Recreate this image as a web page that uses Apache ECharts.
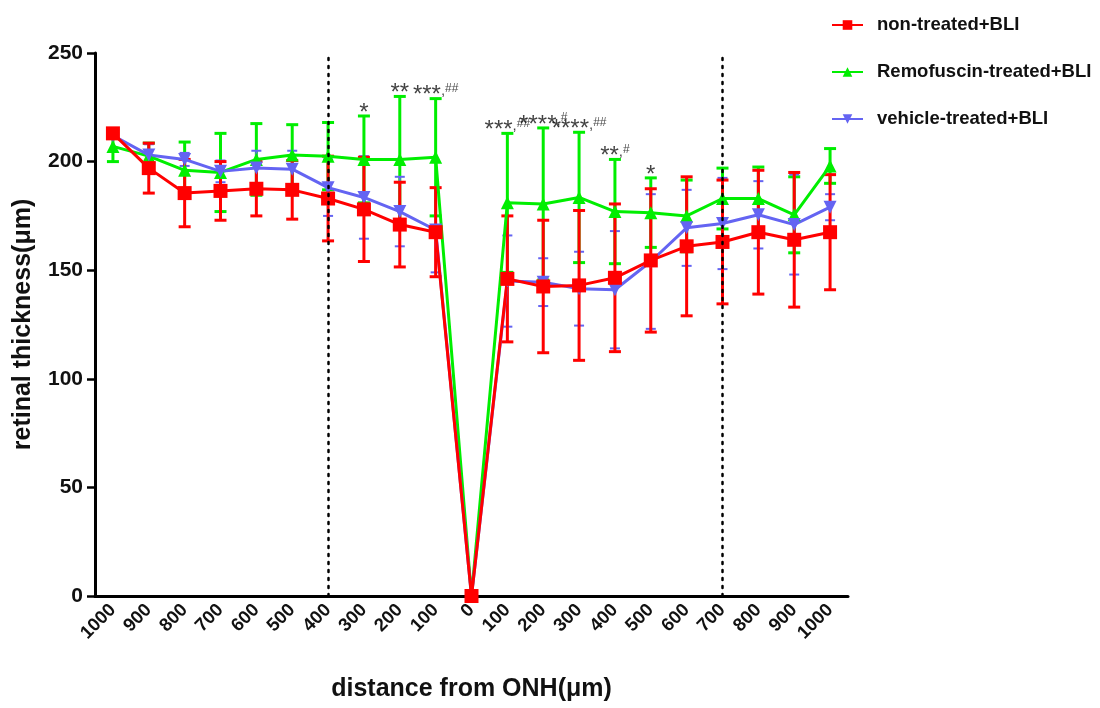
<!DOCTYPE html>
<html>
<head>
<meta charset="utf-8">
<script src="https://cdn.jsdelivr.net/npm/echarts@6/dist/echarts.min.js"></script>
<style>html,body{margin:0;padding:0;background:#fff;}#main{width:1100px;height:708px;}</style>
</head>
<body>
<div id="main"></div>
<script>
const categories = ['1000','900','800','700','600','500','400','300','200','100','0','100','200','300','400','500','600','700','800','900','1000'];
const yTicks = [0, 50, 100, 150, 200, 250];

const redMean  = [213, 197, 185.5, 186.5, 187.5, 187, 183, 178, 171, 167.5, 0, 146, 142.5, 143, 146.5, 154.5, 161, 163, 167.5, 164, 167.5];
const redErr   = [0, 11.5, 15.5, 13.5, 12.5, 13.5, 19.5, 24, 19.5, 20.5, 0, 29, 30.5, 34.5, 34, 33, 32, 28.5, 28.5, 31, 26.5];
const greenMean= [207, 202.5, 196, 195, 201, 203, 202.5, 201, 201, 202, 0, 181, 180.5, 183.5, 177, 176.5, 175, 183, 183, 175.5, 198];
const greenErr = [7, 6, 13, 18, 16.5, 14, 15.5, 20, 29, 27, 0, 32, 35, 30, 24, 16, 16.5, 14, 14.5, 17.5, 8];
const blueMean = [212, 203, 201, 195.5, 197, 196.5, 188, 183.5, 177, 168.5, 0, 145, 144.5, 141.5, 141, 154, 169.5, 171.5, 175.5, 171, 179];
const blueErr  = [0, 5, 3, 5, 8, 8.5, 13, 19, 16, 19.5, 0, 21, 11, 17, 27, 31, 17.5, 21, 15.5, 23, 6];

const annotIdx  = [7, 8, 9, 11, 12, 13, 14, 15];
const annotStar = ['*', '**', '***', '***', '****', '****', '**', '*'];
const annotHash = ['', '', '##', '##', '#', '##', '#', ''];

const dottedIdx = [6, 17];

const RED = '#ff0000', GREEN = '#00ee00', BLUE = '#6464f2';
const FONT = 'Liberation Sans, Arial, sans-serif';

function errData(mean, err) {
  return mean.map((m, i) => [i, m - err[i], m + err[i]]);
}
function errSeries(mean, err, color, width, capW) {
  return {
    type: 'custom',
    silent: true,
    renderItem: function (params, api) {
      const x = api.value(0);
      const lo = api.coord([x, api.value(1)]);
      const hi = api.coord([x, api.value(2)]);
      const st = { stroke: color, lineWidth: width };
      return { type: 'group', children: [
        { type: 'line', shape: { x1: lo[0], y1: lo[1], x2: hi[0], y2: hi[1] }, style: st },
        { type: 'line', shape: { x1: hi[0] - capW / 2, y1: hi[1], x2: hi[0] + capW / 2, y2: hi[1] }, style: st },
        { type: 'line', shape: { x1: lo[0] - capW / 2, y1: lo[1], x2: lo[0] + capW / 2, y2: lo[1] }, style: st }
      ] };
    },
    encode: { x: 0, y: [1, 2] },
    data: errData(mean, err).filter((d, i) => err[i] > 0)
  };
}

const chart = echarts.init(document.getElementById('main'));
chart.setOption({
  animation: false,
  backgroundColor: '#fff',
  textStyle: { fontFamily: FONT },
  grid: { left: 95, right: 252, top: 53, bottom: 112 },
  legend: {
    orient: 'vertical',
    left: 826,
    top: 10,
    itemGap: 27,
    itemWidth: 31,
    itemHeight: 12,
    textStyle: { fontSize: 18.5, fontWeight: 'bold', color: '#111', fontFamily: FONT, lineHeight: 20, padding: [0, 0, 0, 9] },
    data: ['non-treated+BLI', 'Remofuscin-treated+BLI', 'vehicle-treated+BLI']
  },
  xAxis: {
    type: 'category',
    data: categories,
    boundaryGap: true,
    name: 'distance from ONH(\u03bcm)',
    nameLocation: 'middle',
    nameGap: 81,
    nameTextStyle: { fontSize: 25, fontWeight: 'bold', color: '#111' },
    axisLine: { lineStyle: { color: '#000', width: 3 } },
    axisTick: { alignWithLabel: true, length: 8, lineStyle: { width: 2.5, color: '#000' } },
    axisLabel: { interval: 0, rotate: 45, fontSize: 18.5, fontWeight: 'bold', color: '#111', margin: 11 },
    splitLine: { show: false }
  },
  yAxis: {
    type: 'value',
    min: 0, max: 250, interval: 50,
    name: 'retinal thickness(\u03bcm)',
    nameLocation: 'middle',
    nameGap: 59,
    nameTextStyle: { fontSize: 25, fontWeight: 'bold', color: '#111' },
    axisLine: { show: true, lineStyle: { color: '#000', width: 3 } },
    axisTick: { show: true, length: 8, lineStyle: { width: 2.5, color: '#000' } },
    axisLabel: { fontSize: 21, fontWeight: 'bold', color: '#111', margin: 12,
      formatter: v => yTicks.indexOf(v) >= 0 ? String(v) : '' },
    splitLine: { show: false }
  },
  series: [
    errSeries(greenMean, greenErr, GREEN, 3, 12),
    {
      name: 'Remofuscin-treated+BLI', type: 'line', data: greenMean,
      symbol: 'triangle', symbolSize: 13, itemStyle: { color: GREEN }, lineStyle: { color: GREEN, width: 3 },
      markLine: {
        silent: true, symbol: 'none', label: { show: false },
        lineStyle: { color: '#000', type: [2, 6], width: 2.5, cap: 'round' },
        data: dottedIdx.map(i => [{ coord: [i, 0] }, { coord: [i, 250] }])
      }
    },
    errSeries(blueMean, blueErr, BLUE, 2, 10),
    {
      name: 'vehicle-treated+BLI', type: 'line', data: blueMean,
      symbol: 'triangle', symbolRotate: 180, symbolSize: 13, itemStyle: { color: BLUE }, lineStyle: { color: BLUE, width: 3 }
    },
    errSeries(redMean, redErr, RED, 3, 12),
    {
      name: 'non-treated+BLI', type: 'line', data: redMean,
      symbol: 'rect', symbolSize: 14, itemStyle: { color: RED }, lineStyle: { color: RED, width: 3 }
    },
    {
      type: 'scatter', silent: true, symbolSize: 0,
      data: annotIdx.map((idx) => [idx, greenMean[idx] + greenErr[idx]]),
      label: {
        show: true, position: 'top', distance: 0, offset: [0, 9],
        formatter: p => '{s|' + annotStar[p.dataIndex] + '}' +
          (annotHash[p.dataIndex] ? '{c|,}{h|' + annotHash[p.dataIndex] + '}' : ''),
        rich: {
          s: { fontSize: 24, color: '#111', fontFamily: FONT, lineHeight: 22, verticalAlign: 'bottom' },
          c: { fontSize: 15, color: '#111', fontFamily: FONT, lineHeight: 22, verticalAlign: 'bottom', padding: [0, 0, 9, 0] },
          h: { fontSize: 12, color: '#111', fontFamily: FONT, lineHeight: 22, verticalAlign: 'bottom', padding: [0, 0, 13, 0] }
        }
      }
    }
  ]
});
</script>
</body>
</html>
